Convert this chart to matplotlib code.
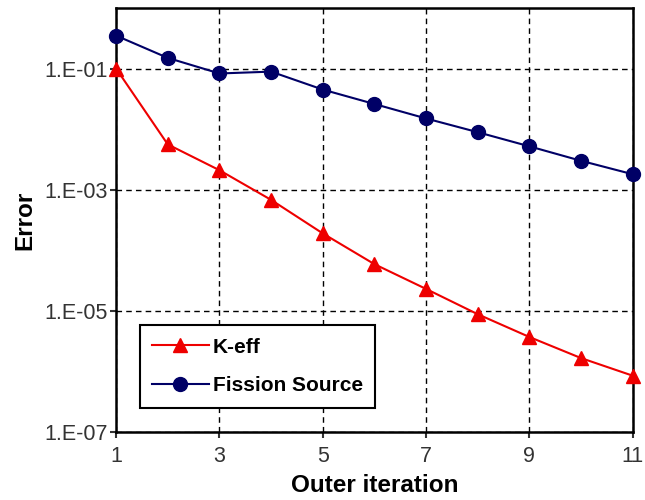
import numpy as np
import matplotlib.pyplot as plt
from matplotlib.ticker import FixedLocator, FixedFormatter, NullLocator

plt.rcParams['font.family'] = ['Liberation Sans', 'DejaVu Sans']

iteration = [1, 2, 3, 4, 5, 6, 7, 8, 9, 10, 11]
keff = [0.1, 5.6e-3, 2.1e-3, 6.8e-4, 1.9e-4, 5.9e-5, 2.3e-5, 8.8e-6, 3.7e-6, 1.66e-6, 8.5e-7]
fission = [0.35, 0.15, 0.083, 0.089, 0.045, 0.026, 0.015, 0.0089, 0.0052, 0.0030, 0.0018]

ytick_vals = [1e-7, 1e-5, 1e-3, 1e-1]
ytick_labels = ['1.E-07', '1.E-05', '1.E-03', '1.E-01']
xtick_vals = [1, 3, 5, 7, 9, 11]

fig = plt.figure(figsize=(6.45, 5), dpi=100)
ax = fig.add_axes([0.180, 0.136, 0.801, 0.848])

ax.plot(iteration, keff, color='#ee0000', marker='^', markersize=10, lw=1.5,
        label='K-eff', zorder=3, clip_on=False)
ax.plot(iteration, fission, color='#000066', marker='o', markersize=10, lw=1.5,
        label='Fission Source', zorder=3, clip_on=False)

ax.set_yscale('log')
ax.set_xlim(1, 11)
ax.set_ylim(1e-7, 1.0)
ax.yaxis.set_major_locator(FixedLocator(ytick_vals))
ax.yaxis.set_major_formatter(FixedFormatter(ytick_labels))
ax.yaxis.set_minor_locator(NullLocator())
ax.set_xticks(xtick_vals)
ax.set_xticklabels([str(v) for v in xtick_vals])

ax.grid(True, color='black', linestyle=(0, (4, 3)), lw=1.0)
for s in ax.spines.values():
    s.set_linewidth(1.8)
ax.tick_params(axis='both', labelsize=15.5, colors='#333333', length=4, width=1.5, direction='out')
ax.tick_params(axis='x', pad=6)
ax.tick_params(axis='y', pad=2)

ax.set_xlabel('Outer iteration', fontsize=17.5, fontweight='bold', labelpad=5)
ax.set_ylabel('Error', fontsize=17.5, fontweight='bold', labelpad=6)

leg = ax.legend(loc='lower left', bbox_to_anchor=(0.046, 0.057), fancybox=False,
                framealpha=1, edgecolor='black', borderpad=0.6, labelspacing=0.95,
                handlelength=2.7, handletextpad=0.2, borderaxespad=0,
                prop={'weight': 'bold', 'size': 15})
leg.get_frame().set_linewidth(1.5)

fig.savefig('out.png', dpi=100)
